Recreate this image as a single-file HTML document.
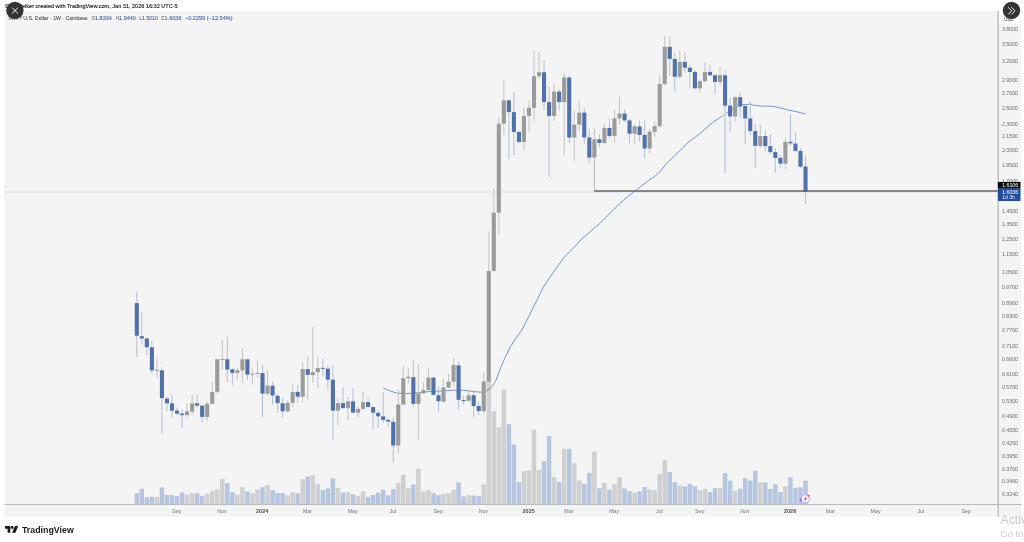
<!DOCTYPE html>
<html><head><meta charset="utf-8"><title>XRP chart</title><style>html,body{margin:0;padding:0;background:#fff;overflow:hidden}body{width:1024px;height:542px;font-family:"Liberation Sans",sans-serif}</style></head><body>
<svg width="1024" height="542" viewBox="0 0 1024 542" style="display:block;font-family:'Liberation Sans',sans-serif">
<defs><filter id="tf" x="-10%" y="-60%" width="120%" height="220%"><feGaussianBlur stdDeviation="0.18"/></filter></defs>
<rect width="1024" height="542" fill="#fff"/>
<rect x="4.3" y="10.9" width="1017.2" height="505.8" fill="#f4f4f4"/>
<rect x="134.55" y="493.20" width="4.5" height="11.00" fill="#b7c6e0"/>
<rect x="139.58" y="488.68" width="4.5" height="15.52" fill="#b7c6e0"/>
<rect x="144.61" y="497.22" width="4.5" height="6.98" fill="#b7c6e0"/>
<rect x="149.63" y="496.72" width="4.5" height="7.48" fill="#b7c6e0"/>
<rect x="154.66" y="496.97" width="4.5" height="7.23" fill="#d0d0d2"/>
<rect x="159.69" y="487.43" width="4.5" height="16.77" fill="#b7c6e0"/>
<rect x="164.72" y="494.96" width="4.5" height="9.24" fill="#b7c6e0"/>
<rect x="169.75" y="494.96" width="4.5" height="9.24" fill="#b7c6e0"/>
<rect x="174.77" y="495.96" width="4.5" height="8.24" fill="#b7c6e0"/>
<rect x="179.80" y="492.45" width="4.5" height="11.75" fill="#b7c6e0"/>
<rect x="184.83" y="494.71" width="4.5" height="9.49" fill="#d0d0d2"/>
<rect x="189.86" y="493.20" width="4.5" height="11.00" fill="#d0d0d2"/>
<rect x="194.89" y="493.20" width="4.5" height="11.00" fill="#b7c6e0"/>
<rect x="199.91" y="495.96" width="4.5" height="8.24" fill="#b7c6e0"/>
<rect x="204.94" y="493.70" width="4.5" height="10.50" fill="#d0d0d2"/>
<rect x="209.97" y="491.19" width="4.5" height="13.01" fill="#d0d0d2"/>
<rect x="215.00" y="489.19" width="4.5" height="15.01" fill="#d0d0d2"/>
<rect x="220.03" y="478.90" width="4.5" height="25.30" fill="#d0d0d2"/>
<rect x="225.05" y="483.16" width="4.5" height="21.04" fill="#b7c6e0"/>
<rect x="230.08" y="492.20" width="4.5" height="12.00" fill="#b7c6e0"/>
<rect x="235.11" y="494.71" width="4.5" height="9.49" fill="#d0d0d2"/>
<rect x="240.14" y="487.18" width="4.5" height="17.02" fill="#d0d0d2"/>
<rect x="245.17" y="491.45" width="4.5" height="12.75" fill="#b7c6e0"/>
<rect x="250.19" y="493.20" width="4.5" height="11.00" fill="#d0d0d2"/>
<rect x="255.22" y="489.69" width="4.5" height="14.51" fill="#d0d0d2"/>
<rect x="260.25" y="487.18" width="4.5" height="17.02" fill="#b7c6e0"/>
<rect x="265.28" y="484.92" width="4.5" height="19.28" fill="#d0d0d2"/>
<rect x="270.31" y="490.19" width="4.5" height="14.01" fill="#b7c6e0"/>
<rect x="275.33" y="493.20" width="4.5" height="11.00" fill="#b7c6e0"/>
<rect x="280.36" y="493.20" width="4.5" height="11.00" fill="#b7c6e0"/>
<rect x="285.39" y="495.21" width="4.5" height="8.99" fill="#d0d0d2"/>
<rect x="290.42" y="492.20" width="4.5" height="12.00" fill="#d0d0d2"/>
<rect x="295.45" y="493.45" width="4.5" height="10.75" fill="#b7c6e0"/>
<rect x="300.47" y="479.15" width="4.5" height="25.05" fill="#d0d0d2"/>
<rect x="305.50" y="476.39" width="4.5" height="27.81" fill="#b7c6e0"/>
<rect x="310.53" y="475.13" width="4.5" height="29.07" fill="#d0d0d2"/>
<rect x="315.56" y="484.17" width="4.5" height="20.03" fill="#d0d0d2"/>
<rect x="320.59" y="489.94" width="4.5" height="14.26" fill="#b7c6e0"/>
<rect x="325.61" y="488.43" width="4.5" height="15.77" fill="#b7c6e0"/>
<rect x="330.64" y="478.39" width="4.5" height="25.81" fill="#b7c6e0"/>
<rect x="335.67" y="487.93" width="4.5" height="16.27" fill="#d0d0d2"/>
<rect x="340.70" y="492.45" width="4.5" height="11.75" fill="#b7c6e0"/>
<rect x="345.73" y="492.20" width="4.5" height="12.00" fill="#d0d0d2"/>
<rect x="350.75" y="494.21" width="4.5" height="9.99" fill="#b7c6e0"/>
<rect x="355.78" y="495.71" width="4.5" height="8.49" fill="#d0d0d2"/>
<rect x="360.81" y="491.15" width="4.5" height="13.05" fill="#d0d0d2"/>
<rect x="365.84" y="496.93" width="4.5" height="7.27" fill="#b7c6e0"/>
<rect x="370.87" y="494.92" width="4.5" height="9.28" fill="#b7c6e0"/>
<rect x="375.89" y="492.66" width="4.5" height="11.54" fill="#b7c6e0"/>
<rect x="380.92" y="489.90" width="4.5" height="14.30" fill="#b7c6e0"/>
<rect x="385.95" y="495.17" width="4.5" height="9.03" fill="#b7c6e0"/>
<rect x="390.98" y="489.15" width="4.5" height="15.05" fill="#b7c6e0"/>
<rect x="396.01" y="483.12" width="4.5" height="21.08" fill="#d0d0d2"/>
<rect x="401.03" y="474.84" width="4.5" height="29.36" fill="#d0d0d2"/>
<rect x="406.06" y="488.14" width="4.5" height="16.06" fill="#d0d0d2"/>
<rect x="411.09" y="484.38" width="4.5" height="19.82" fill="#b7c6e0"/>
<rect x="416.12" y="468.82" width="4.5" height="35.38" fill="#d0d0d2"/>
<rect x="421.15" y="491.41" width="4.5" height="12.79" fill="#d0d0d2"/>
<rect x="426.17" y="490.15" width="4.5" height="14.05" fill="#d0d0d2"/>
<rect x="431.20" y="493.16" width="4.5" height="11.04" fill="#b7c6e0"/>
<rect x="436.23" y="495.17" width="4.5" height="9.03" fill="#b7c6e0"/>
<rect x="441.26" y="493.92" width="4.5" height="10.28" fill="#d0d0d2"/>
<rect x="446.29" y="493.41" width="4.5" height="10.79" fill="#d0d0d2"/>
<rect x="451.31" y="489.65" width="4.5" height="14.55" fill="#d0d0d2"/>
<rect x="456.34" y="482.37" width="4.5" height="21.83" fill="#b7c6e0"/>
<rect x="461.37" y="496.43" width="4.5" height="7.77" fill="#b7c6e0"/>
<rect x="466.40" y="495.17" width="4.5" height="9.03" fill="#d0d0d2"/>
<rect x="471.43" y="495.67" width="4.5" height="8.53" fill="#b7c6e0"/>
<rect x="476.45" y="495.92" width="4.5" height="8.28" fill="#b7c6e0"/>
<rect x="481.48" y="484.38" width="4.5" height="19.82" fill="#d0d0d2"/>
<rect x="486.51" y="380.00" width="4.5" height="124.20" fill="#d0d0d2"/>
<rect x="491.54" y="411.08" width="4.5" height="93.12" fill="#d0d0d2"/>
<rect x="496.57" y="427.15" width="4.5" height="77.05" fill="#d0d0d2"/>
<rect x="501.59" y="389.50" width="4.5" height="114.70" fill="#d0d0d2"/>
<rect x="506.62" y="424.14" width="4.5" height="80.06" fill="#b7c6e0"/>
<rect x="511.65" y="444.47" width="4.5" height="59.73" fill="#b7c6e0"/>
<rect x="516.68" y="482.12" width="4.5" height="22.08" fill="#b7c6e0"/>
<rect x="521.71" y="471.07" width="4.5" height="33.13" fill="#d0d0d2"/>
<rect x="526.73" y="470.32" width="4.5" height="33.88" fill="#d0d0d2"/>
<rect x="531.76" y="429.66" width="4.5" height="74.54" fill="#d0d0d2"/>
<rect x="536.79" y="469.82" width="4.5" height="34.38" fill="#d0d0d2"/>
<rect x="541.82" y="461.03" width="4.5" height="43.17" fill="#b7c6e0"/>
<rect x="546.85" y="435.93" width="4.5" height="68.27" fill="#b7c6e0"/>
<rect x="551.87" y="477.10" width="4.5" height="27.10" fill="#d0d0d2"/>
<rect x="556.90" y="482.12" width="4.5" height="22.08" fill="#b7c6e0"/>
<rect x="561.93" y="448.73" width="4.5" height="55.47" fill="#d0d0d2"/>
<rect x="566.96" y="448.73" width="4.5" height="55.47" fill="#b7c6e0"/>
<rect x="571.99" y="463.29" width="4.5" height="40.91" fill="#d0d0d2"/>
<rect x="577.01" y="480.36" width="4.5" height="23.84" fill="#d0d0d2"/>
<rect x="582.04" y="483.88" width="4.5" height="20.32" fill="#b7c6e0"/>
<rect x="587.07" y="472.83" width="4.5" height="31.37" fill="#b7c6e0"/>
<rect x="592.10" y="451.50" width="4.5" height="52.70" fill="#d0d0d2"/>
<rect x="597.13" y="488.14" width="4.5" height="16.06" fill="#b7c6e0"/>
<rect x="602.15" y="482.87" width="4.5" height="21.33" fill="#d0d0d2"/>
<rect x="607.18" y="489.65" width="4.5" height="14.55" fill="#b7c6e0"/>
<rect x="612.21" y="484.38" width="4.5" height="19.82" fill="#d0d0d2"/>
<rect x="617.24" y="477.10" width="4.5" height="27.10" fill="#d0d0d2"/>
<rect x="622.27" y="488.39" width="4.5" height="15.81" fill="#b7c6e0"/>
<rect x="627.29" y="491.15" width="4.5" height="13.05" fill="#b7c6e0"/>
<rect x="632.32" y="492.66" width="4.5" height="11.54" fill="#d0d0d2"/>
<rect x="637.35" y="491.41" width="4.5" height="12.79" fill="#b7c6e0"/>
<rect x="642.38" y="487.14" width="4.5" height="17.06" fill="#b7c6e0"/>
<rect x="647.41" y="489.40" width="4.5" height="14.80" fill="#d0d0d2"/>
<rect x="652.43" y="490.15" width="4.5" height="14.05" fill="#d0d0d2"/>
<rect x="657.46" y="474.09" width="4.5" height="30.11" fill="#d0d0d2"/>
<rect x="662.49" y="460.03" width="4.5" height="44.17" fill="#d0d0d2"/>
<rect x="667.52" y="472.08" width="4.5" height="32.12" fill="#b7c6e0"/>
<rect x="672.55" y="482.12" width="4.5" height="22.08" fill="#b7c6e0"/>
<rect x="677.57" y="485.38" width="4.5" height="18.82" fill="#d0d0d2"/>
<rect x="682.60" y="486.39" width="4.5" height="17.81" fill="#b7c6e0"/>
<rect x="687.63" y="483.88" width="4.5" height="20.32" fill="#b7c6e0"/>
<rect x="692.66" y="486.13" width="4.5" height="18.07" fill="#b7c6e0"/>
<rect x="697.69" y="490.15" width="4.5" height="14.05" fill="#d0d0d2"/>
<rect x="702.71" y="488.90" width="4.5" height="15.30" fill="#d0d0d2"/>
<rect x="707.74" y="492.16" width="4.5" height="12.04" fill="#b7c6e0"/>
<rect x="712.77" y="487.89" width="4.5" height="16.31" fill="#b7c6e0"/>
<rect x="717.80" y="488.14" width="4.5" height="16.06" fill="#d0d0d2"/>
<rect x="722.83" y="473.08" width="4.5" height="31.12" fill="#b7c6e0"/>
<rect x="727.85" y="480.61" width="4.5" height="23.59" fill="#b7c6e0"/>
<rect x="732.88" y="490.65" width="4.5" height="13.55" fill="#d0d0d2"/>
<rect x="737.91" y="488.64" width="4.5" height="15.56" fill="#b7c6e0"/>
<rect x="742.94" y="478.10" width="4.5" height="26.10" fill="#b7c6e0"/>
<rect x="747.97" y="480.61" width="4.5" height="23.59" fill="#b7c6e0"/>
<rect x="752.99" y="470.82" width="4.5" height="33.38" fill="#b7c6e0"/>
<rect x="758.02" y="482.37" width="4.5" height="21.83" fill="#d0d0d2"/>
<rect x="763.05" y="482.37" width="4.5" height="21.83" fill="#b7c6e0"/>
<rect x="768.08" y="488.90" width="4.5" height="15.30" fill="#b7c6e0"/>
<rect x="773.11" y="484.38" width="4.5" height="19.82" fill="#b7c6e0"/>
<rect x="778.13" y="491.91" width="4.5" height="12.29" fill="#b7c6e0"/>
<rect x="783.16" y="486.13" width="4.5" height="18.07" fill="#d0d0d2"/>
<rect x="788.19" y="477.35" width="4.5" height="26.85" fill="#b7c6e0"/>
<rect x="793.22" y="488.14" width="4.5" height="16.06" fill="#b7c6e0"/>
<rect x="798.25" y="487.39" width="4.5" height="16.81" fill="#b7c6e0"/>
<rect x="803.27" y="480.61" width="4.5" height="23.59" fill="#b7c6e0"/>
<line x1="4.3" y1="191.9" x2="998" y2="191.9" stroke="#b2c0dc" stroke-width="0.8" stroke-dasharray="1,1"/>
<polyline points="383.1,388.0 390.1,391.0 397.7,393.3 405.2,393.5 412.7,393.3 422.8,392.2 432.8,391.2 442.8,391.0 452.9,390.2 462.9,390.2 473.0,391.5 480.5,392.2 485.5,391.5 490.5,388.2 495.5,381.5 500.6,367.7 505.6,356.4 510.6,346.3 515.6,338.8 521.9,330.0 544.0,286.0 552.8,273.0 564.1,257.4 583.0,237.9 600.5,222.8 615.2,208.0 624.0,199.6 635.3,190.8 646.6,182.0 655.4,175.8 660.4,171.4 666.7,163.2 675.4,155.1 688.0,142.5 697.8,135.2 700.0,133.3 712.5,122.7 722.6,115.8 731.4,109.5 737.6,106.3 742.7,104.7 750.2,104.2 754.0,105.3 762.7,106.1 772.8,106.3 780.3,107.9 787.8,109.9 797.9,112.0 805.6,114.0" fill="none" stroke="#5f82c0" stroke-width="0.85" stroke-linejoin="round"/>
<rect x="136.30" y="291.30" width="1.0" height="65.76" fill="#b2bfdb"/>
<rect x="141.33" y="311.38" width="1.0" height="33.13" fill="#b2bfdb"/>
<rect x="146.36" y="337.23" width="1.0" height="18.07" fill="#b2bfdb"/>
<rect x="151.38" y="340.99" width="1.0" height="33.13" fill="#b2bfdb"/>
<rect x="156.41" y="358.31" width="1.0" height="19.58" fill="#c4c4c4"/>
<rect x="161.44" y="367.10" width="1.0" height="67.37" fill="#b2bfdb"/>
<rect x="166.47" y="396.72" width="1.0" height="14.66" fill="#b2bfdb"/>
<rect x="171.50" y="394.31" width="1.0" height="23.34" fill="#b2bfdb"/>
<rect x="176.52" y="407.61" width="1.0" height="7.53" fill="#b2bfdb"/>
<rect x="181.55" y="409.37" width="1.0" height="18.83" fill="#b2bfdb"/>
<rect x="186.58" y="403.34" width="1.0" height="14.31" fill="#c4c4c4"/>
<rect x="191.61" y="394.56" width="1.0" height="20.58" fill="#c4c4c4"/>
<rect x="196.64" y="394.31" width="1.0" height="13.30" fill="#b2bfdb"/>
<rect x="201.66" y="405.10" width="1.0" height="17.07" fill="#b2bfdb"/>
<rect x="206.69" y="401.34" width="1.0" height="19.58" fill="#c4c4c4"/>
<rect x="211.72" y="382.01" width="1.0" height="22.59" fill="#c4c4c4"/>
<rect x="216.75" y="359.32" width="1.0" height="34.49" fill="#c4c4c4"/>
<rect x="221.78" y="339.74" width="1.0" height="30.12" fill="#c4c4c4"/>
<rect x="226.80" y="336.48" width="1.0" height="45.68" fill="#b2bfdb"/>
<rect x="231.83" y="367.85" width="1.0" height="17.57" fill="#b2bfdb"/>
<rect x="236.86" y="367.85" width="1.0" height="12.05" fill="#c4c4c4"/>
<rect x="241.89" y="348.27" width="1.0" height="33.89" fill="#c4c4c4"/>
<rect x="246.92" y="359.32" width="1.0" height="20.58" fill="#b2bfdb"/>
<rect x="251.94" y="368.35" width="1.0" height="16.06" fill="#c4c4c4"/>
<rect x="256.97" y="360.32" width="1.0" height="17.57" fill="#c4c4c4"/>
<rect x="262.00" y="365.34" width="1.0" height="51.81" fill="#b2bfdb"/>
<rect x="267.03" y="370.36" width="1.0" height="25.10" fill="#c4c4c4"/>
<rect x="272.06" y="381.66" width="1.0" height="22.59" fill="#b2bfdb"/>
<rect x="277.08" y="394.21" width="1.0" height="18.83" fill="#b2bfdb"/>
<rect x="282.11" y="397.97" width="1.0" height="19.68" fill="#b2bfdb"/>
<rect x="287.14" y="400.48" width="1.0" height="12.55" fill="#c4c4c4"/>
<rect x="292.17" y="384.17" width="1.0" height="22.59" fill="#c4c4c4"/>
<rect x="297.20" y="385.42" width="1.0" height="17.57" fill="#b2bfdb"/>
<rect x="302.22" y="362.08" width="1.0" height="39.66" fill="#c4c4c4"/>
<rect x="307.25" y="356.56" width="1.0" height="42.67" fill="#b2bfdb"/>
<rect x="312.28" y="326.94" width="1.0" height="55.97" fill="#c4c4c4"/>
<rect x="317.31" y="357.06" width="1.0" height="30.87" fill="#c4c4c4"/>
<rect x="322.34" y="358.56" width="1.0" height="18.07" fill="#b2bfdb"/>
<rect x="327.36" y="365.34" width="1.0" height="24.35" fill="#b2bfdb"/>
<rect x="332.39" y="364.84" width="1.0" height="74.90" fill="#b2bfdb"/>
<rect x="337.42" y="398.83" width="1.0" height="26.36" fill="#c4c4c4"/>
<rect x="342.45" y="387.03" width="1.0" height="21.84" fill="#b2bfdb"/>
<rect x="347.48" y="397.07" width="1.0" height="23.59" fill="#c4c4c4"/>
<rect x="352.50" y="387.53" width="1.0" height="25.85" fill="#b2bfdb"/>
<rect x="357.53" y="406.36" width="1.0" height="11.30" fill="#c4c4c4"/>
<rect x="362.56" y="391.30" width="1.0" height="18.83" fill="#c4c4c4"/>
<rect x="367.59" y="397.57" width="1.0" height="10.54" fill="#b2bfdb"/>
<rect x="372.62" y="406.36" width="1.0" height="23.85" fill="#b2bfdb"/>
<rect x="377.64" y="410.32" width="1.0" height="17.57" fill="#b2bfdb"/>
<rect x="382.67" y="392.00" width="1.0" height="30.87" fill="#b2bfdb"/>
<rect x="387.70" y="418.35" width="1.0" height="8.28" fill="#b2bfdb"/>
<rect x="392.73" y="417.35" width="1.0" height="45.18" fill="#b2bfdb"/>
<rect x="397.76" y="388.99" width="1.0" height="64.01" fill="#c4c4c4"/>
<rect x="402.78" y="366.40" width="1.0" height="38.91" fill="#c4c4c4"/>
<rect x="407.81" y="367.65" width="1.0" height="16.32" fill="#c4c4c4"/>
<rect x="412.84" y="360.12" width="1.0" height="46.94" fill="#b2bfdb"/>
<rect x="417.87" y="363.89" width="1.0" height="75.80" fill="#c4c4c4"/>
<rect x="422.90" y="382.21" width="1.0" height="11.80" fill="#c4c4c4"/>
<rect x="427.92" y="368.15" width="1.0" height="22.59" fill="#c4c4c4"/>
<rect x="432.95" y="376.44" width="1.0" height="19.33" fill="#b2bfdb"/>
<rect x="437.98" y="386.48" width="1.0" height="24.85" fill="#b2bfdb"/>
<rect x="443.01" y="378.44" width="1.0" height="24.35" fill="#c4c4c4"/>
<rect x="448.04" y="373.93" width="1.0" height="14.31" fill="#c4c4c4"/>
<rect x="453.06" y="358.11" width="1.0" height="28.36" fill="#c4c4c4"/>
<rect x="458.09" y="361.38" width="1.0" height="48.44" fill="#b2bfdb"/>
<rect x="463.12" y="395.76" width="1.0" height="8.79" fill="#b2bfdb"/>
<rect x="468.15" y="388.99" width="1.0" height="12.55" fill="#c4c4c4"/>
<rect x="473.18" y="390.24" width="1.0" height="27.11" fill="#b2bfdb"/>
<rect x="478.20" y="401.54" width="1.0" height="13.81" fill="#b2bfdb"/>
<rect x="483.23" y="371.92" width="1.0" height="41.67" fill="#c4c4c4"/>
<rect x="488.26" y="231.58" width="1.0" height="150.38" fill="#c4c4c4"/>
<rect x="493.29" y="188.15" width="1.0" height="83.33" fill="#c4c4c4"/>
<rect x="498.32" y="117.89" width="1.0" height="116.19" fill="#c4c4c4"/>
<rect x="503.34" y="80.24" width="1.0" height="55.22" fill="#c4c4c4"/>
<rect x="508.37" y="99.82" width="1.0" height="59.72" fill="#b2bfdb"/>
<rect x="513.40" y="91.54" width="1.0" height="63.48" fill="#b2bfdb"/>
<rect x="518.43" y="130.44" width="1.0" height="13.05" fill="#b2bfdb"/>
<rect x="523.46" y="107.35" width="1.0" height="43.17" fill="#c4c4c4"/>
<rect x="528.48" y="100.82" width="1.0" height="30.87" fill="#c4c4c4"/>
<rect x="533.51" y="50.12" width="1.0" height="71.03" fill="#c4c4c4"/>
<rect x="538.54" y="51.88" width="1.0" height="27.11" fill="#c4c4c4"/>
<rect x="543.57" y="60.16" width="1.0" height="50.20" fill="#b2bfdb"/>
<rect x="548.60" y="86.52" width="1.0" height="90.59" fill="#b2bfdb"/>
<rect x="553.62" y="84.01" width="1.0" height="36.90" fill="#c4c4c4"/>
<rect x="558.65" y="89.03" width="1.0" height="21.34" fill="#b2bfdb"/>
<rect x="563.68" y="73.46" width="1.0" height="81.56" fill="#c4c4c4"/>
<rect x="568.71" y="75.72" width="1.0" height="67.27" fill="#b2bfdb"/>
<rect x="573.74" y="109.61" width="1.0" height="50.93" fill="#c4c4c4"/>
<rect x="578.76" y="100.82" width="1.0" height="29.62" fill="#c4c4c4"/>
<rect x="583.79" y="107.85" width="1.0" height="36.40" fill="#b2bfdb"/>
<rect x="588.82" y="129.19" width="1.0" height="33.87" fill="#b2bfdb"/>
<rect x="593.85" y="128.43" width="1.0" height="29.10" fill="#c4c4c4"/>
<rect x="598.88" y="134.21" width="1.0" height="12.55" fill="#b2bfdb"/>
<rect x="603.90" y="124.17" width="1.0" height="20.08" fill="#c4c4c4"/>
<rect x="608.93" y="118.64" width="1.0" height="19.33" fill="#b2bfdb"/>
<rect x="613.96" y="109.11" width="1.0" height="33.89" fill="#c4c4c4"/>
<rect x="618.99" y="96.56" width="1.0" height="27.61" fill="#c4c4c4"/>
<rect x="624.02" y="109.61" width="1.0" height="12.05" fill="#b2bfdb"/>
<rect x="629.04" y="119.15" width="1.0" height="23.85" fill="#b2bfdb"/>
<rect x="634.07" y="124.92" width="1.0" height="19.33" fill="#c4c4c4"/>
<rect x="639.10" y="120.40" width="1.0" height="21.34" fill="#b2bfdb"/>
<rect x="644.13" y="120.40" width="1.0" height="37.88" fill="#b2bfdb"/>
<rect x="649.16" y="129.19" width="1.0" height="24.58" fill="#c4c4c4"/>
<rect x="654.18" y="121.15" width="1.0" height="15.56" fill="#c4c4c4"/>
<rect x="659.21" y="74.72" width="1.0" height="53.21" fill="#c4c4c4"/>
<rect x="664.24" y="35.56" width="1.0" height="50.20" fill="#c4c4c4"/>
<rect x="669.27" y="36.32" width="1.0" height="39.41" fill="#b2bfdb"/>
<rect x="674.30" y="52.63" width="1.0" height="38.91" fill="#b2bfdb"/>
<rect x="679.32" y="50.62" width="1.0" height="28.87" fill="#c4c4c4"/>
<rect x="684.35" y="52.13" width="1.0" height="20.58" fill="#b2bfdb"/>
<rect x="689.38" y="65.18" width="1.0" height="22.59" fill="#b2bfdb"/>
<rect x="694.41" y="70.20" width="1.0" height="18.83" fill="#b2bfdb"/>
<rect x="699.44" y="79.49" width="1.0" height="13.81" fill="#c4c4c4"/>
<rect x="704.46" y="62.17" width="1.0" height="19.83" fill="#c4c4c4"/>
<rect x="709.49" y="64.68" width="1.0" height="11.80" fill="#b2bfdb"/>
<rect x="714.52" y="73.97" width="1.0" height="20.08" fill="#b2bfdb"/>
<rect x="719.55" y="66.94" width="1.0" height="18.83" fill="#c4c4c4"/>
<rect x="724.58" y="70.20" width="1.0" height="102.75" fill="#b2bfdb"/>
<rect x="729.60" y="97.65" width="1.0" height="35.14" fill="#b2bfdb"/>
<rect x="734.63" y="96.40" width="1.0" height="25.10" fill="#c4c4c4"/>
<rect x="739.66" y="92.63" width="1.0" height="25.10" fill="#b2bfdb"/>
<rect x="744.69" y="104.68" width="1.0" height="39.41" fill="#b2bfdb"/>
<rect x="749.72" y="101.42" width="1.0" height="33.89" fill="#b2bfdb"/>
<rect x="754.74" y="123.25" width="1.0" height="45.18" fill="#b2bfdb"/>
<rect x="759.77" y="124.51" width="1.0" height="23.34" fill="#c4c4c4"/>
<rect x="764.80" y="130.28" width="1.0" height="21.34" fill="#b2bfdb"/>
<rect x="769.83" y="134.05" width="1.0" height="20.58" fill="#b2bfdb"/>
<rect x="774.86" y="148.35" width="1.0" height="24.60" fill="#b2bfdb"/>
<rect x="779.88" y="155.38" width="1.0" height="12.55" fill="#b2bfdb"/>
<rect x="784.91" y="137.81" width="1.0" height="31.38" fill="#c4c4c4"/>
<rect x="789.94" y="114.47" width="1.0" height="31.38" fill="#b2bfdb"/>
<rect x="794.97" y="132.79" width="1.0" height="19.33" fill="#b2bfdb"/>
<rect x="800.00" y="147.85" width="1.0" height="20.08" fill="#b2bfdb"/>
<rect x="805.02" y="155.40" width="1.0" height="48.90" fill="#b2bfdb"/>
<rect x="724.08" y="106" width="2.0" height="67" fill="#cfd7e8"/>
<rect x="134.75" y="303.09" width="4.1" height="32.63" fill="#5171ab"/>
<rect x="139.78" y="336.22" width="4.1" height="2.26" fill="#5171ab"/>
<rect x="144.81" y="338.48" width="4.1" height="8.79" fill="#5171ab"/>
<rect x="149.83" y="347.27" width="4.1" height="23.09" fill="#5171ab"/>
<rect x="154.86" y="369.86" width="4.1" height="1.00" fill="#9b9b9b"/>
<rect x="159.89" y="370.36" width="4.1" height="27.71" fill="#5171ab"/>
<rect x="164.92" y="398.57" width="4.1" height="4.77" fill="#5171ab"/>
<rect x="169.95" y="403.34" width="4.1" height="7.28" fill="#5171ab"/>
<rect x="174.97" y="410.62" width="4.1" height="3.01" fill="#5171ab"/>
<rect x="180.00" y="413.63" width="4.1" height="1.51" fill="#5171ab"/>
<rect x="185.03" y="411.38" width="4.1" height="3.77" fill="#9b9b9b"/>
<rect x="190.06" y="403.34" width="4.1" height="8.28" fill="#9b9b9b"/>
<rect x="195.09" y="403.34" width="4.1" height="2.26" fill="#5171ab"/>
<rect x="200.11" y="405.60" width="4.1" height="11.30" fill="#5171ab"/>
<rect x="205.14" y="403.59" width="4.1" height="13.30" fill="#9b9b9b"/>
<rect x="210.17" y="392.05" width="4.1" height="11.80" fill="#9b9b9b"/>
<rect x="215.20" y="359.32" width="4.1" height="32.48" fill="#9b9b9b"/>
<rect x="220.23" y="359.07" width="4.1" height="1.00" fill="#9b9b9b"/>
<rect x="225.25" y="359.32" width="4.1" height="10.29" fill="#5171ab"/>
<rect x="230.28" y="369.36" width="4.1" height="3.51" fill="#5171ab"/>
<rect x="235.31" y="370.36" width="4.1" height="2.51" fill="#9b9b9b"/>
<rect x="240.34" y="359.32" width="4.1" height="11.04" fill="#9b9b9b"/>
<rect x="245.37" y="359.32" width="4.1" height="15.31" fill="#5171ab"/>
<rect x="250.39" y="373.88" width="4.1" height="1.00" fill="#9b9b9b"/>
<rect x="255.42" y="372.87" width="4.1" height="1.00" fill="#9b9b9b"/>
<rect x="260.45" y="373.12" width="4.1" height="20.58" fill="#5171ab"/>
<rect x="265.48" y="385.67" width="4.1" height="8.03" fill="#9b9b9b"/>
<rect x="270.51" y="385.67" width="4.1" height="9.79" fill="#5171ab"/>
<rect x="275.53" y="395.71" width="4.1" height="7.28" fill="#5171ab"/>
<rect x="280.56" y="403.24" width="4.1" height="8.03" fill="#5171ab"/>
<rect x="285.59" y="402.74" width="4.1" height="8.53" fill="#9b9b9b"/>
<rect x="290.62" y="391.95" width="4.1" height="10.79" fill="#9b9b9b"/>
<rect x="295.65" y="391.95" width="4.1" height="4.77" fill="#5171ab"/>
<rect x="300.67" y="369.11" width="4.1" height="27.61" fill="#9b9b9b"/>
<rect x="305.70" y="369.11" width="4.1" height="5.77" fill="#5171ab"/>
<rect x="310.73" y="372.12" width="4.1" height="3.01" fill="#9b9b9b"/>
<rect x="315.76" y="368.10" width="4.1" height="4.02" fill="#9b9b9b"/>
<rect x="320.79" y="367.85" width="4.1" height="1.00" fill="#5171ab"/>
<rect x="325.81" y="368.60" width="4.1" height="11.04" fill="#5171ab"/>
<rect x="330.84" y="379.65" width="4.1" height="30.97" fill="#5171ab"/>
<rect x="335.87" y="403.09" width="4.1" height="7.53" fill="#9b9b9b"/>
<rect x="340.90" y="403.09" width="4.1" height="5.02" fill="#5171ab"/>
<rect x="345.93" y="401.34" width="4.1" height="6.78" fill="#9b9b9b"/>
<rect x="350.95" y="401.34" width="4.1" height="11.30" fill="#5171ab"/>
<rect x="355.98" y="408.87" width="4.1" height="3.77" fill="#9b9b9b"/>
<rect x="361.01" y="402.09" width="4.1" height="6.78" fill="#9b9b9b"/>
<rect x="366.04" y="402.09" width="4.1" height="4.77" fill="#5171ab"/>
<rect x="371.07" y="407.11" width="4.1" height="5.52" fill="#5171ab"/>
<rect x="376.09" y="412.83" width="4.1" height="3.51" fill="#5171ab"/>
<rect x="381.12" y="416.35" width="4.1" height="3.51" fill="#5171ab"/>
<rect x="386.15" y="419.86" width="4.1" height="1.76" fill="#5171ab"/>
<rect x="391.18" y="421.87" width="4.1" height="23.59" fill="#5171ab"/>
<rect x="396.21" y="404.55" width="4.1" height="40.91" fill="#9b9b9b"/>
<rect x="401.23" y="378.19" width="4.1" height="26.36" fill="#9b9b9b"/>
<rect x="406.26" y="376.69" width="4.1" height="1.51" fill="#9b9b9b"/>
<rect x="411.29" y="377.19" width="4.1" height="26.61" fill="#5171ab"/>
<rect x="416.32" y="393.25" width="4.1" height="10.54" fill="#9b9b9b"/>
<rect x="421.35" y="389.99" width="4.1" height="3.26" fill="#9b9b9b"/>
<rect x="426.37" y="377.69" width="4.1" height="12.30" fill="#9b9b9b"/>
<rect x="431.40" y="377.69" width="4.1" height="17.07" fill="#5171ab"/>
<rect x="436.43" y="395.26" width="4.1" height="6.02" fill="#5171ab"/>
<rect x="441.46" y="387.48" width="4.1" height="14.06" fill="#9b9b9b"/>
<rect x="446.49" y="381.71" width="4.1" height="5.77" fill="#9b9b9b"/>
<rect x="451.51" y="365.14" width="4.1" height="16.57" fill="#9b9b9b"/>
<rect x="456.54" y="365.39" width="4.1" height="34.39" fill="#5171ab"/>
<rect x="461.57" y="400.03" width="4.1" height="1.00" fill="#5171ab"/>
<rect x="466.60" y="395.26" width="4.1" height="5.52" fill="#9b9b9b"/>
<rect x="471.63" y="395.26" width="4.1" height="10.79" fill="#5171ab"/>
<rect x="476.65" y="406.05" width="4.1" height="5.02" fill="#5171ab"/>
<rect x="481.68" y="381.46" width="4.1" height="29.62" fill="#9b9b9b"/>
<rect x="486.71" y="270.98" width="4.1" height="110.47" fill="#9b9b9b"/>
<rect x="491.74" y="212.75" width="4.1" height="58.23" fill="#9b9b9b"/>
<rect x="496.77" y="123.66" width="4.1" height="89.09" fill="#9b9b9b"/>
<rect x="501.79" y="100.32" width="4.1" height="23.34" fill="#9b9b9b"/>
<rect x="506.82" y="100.32" width="4.1" height="11.80" fill="#5171ab"/>
<rect x="511.85" y="112.12" width="4.1" height="19.83" fill="#5171ab"/>
<rect x="516.88" y="131.95" width="4.1" height="10.04" fill="#5171ab"/>
<rect x="521.91" y="115.88" width="4.1" height="26.10" fill="#9b9b9b"/>
<rect x="526.93" y="107.85" width="4.1" height="8.03" fill="#9b9b9b"/>
<rect x="531.96" y="76.22" width="4.1" height="31.63" fill="#9b9b9b"/>
<rect x="536.99" y="72.21" width="4.1" height="4.02" fill="#9b9b9b"/>
<rect x="542.02" y="72.21" width="4.1" height="29.87" fill="#5171ab"/>
<rect x="547.05" y="102.08" width="4.1" height="13.81" fill="#5171ab"/>
<rect x="552.07" y="91.54" width="4.1" height="24.35" fill="#9b9b9b"/>
<rect x="557.10" y="91.54" width="4.1" height="10.54" fill="#5171ab"/>
<rect x="562.13" y="77.48" width="4.1" height="24.60" fill="#9b9b9b"/>
<rect x="567.16" y="77.48" width="4.1" height="59.99" fill="#5171ab"/>
<rect x="572.19" y="124.67" width="4.1" height="12.80" fill="#9b9b9b"/>
<rect x="577.21" y="112.62" width="4.1" height="12.05" fill="#9b9b9b"/>
<rect x="582.24" y="112.62" width="4.1" height="24.85" fill="#5171ab"/>
<rect x="587.27" y="137.47" width="4.1" height="20.06" fill="#5171ab"/>
<rect x="592.30" y="139.23" width="4.1" height="18.30" fill="#9b9b9b"/>
<rect x="597.33" y="139.23" width="4.1" height="3.77" fill="#5171ab"/>
<rect x="602.35" y="127.93" width="4.1" height="15.06" fill="#9b9b9b"/>
<rect x="607.38" y="127.93" width="4.1" height="8.03" fill="#5171ab"/>
<rect x="612.41" y="118.39" width="4.1" height="17.57" fill="#9b9b9b"/>
<rect x="617.44" y="113.62" width="4.1" height="4.77" fill="#9b9b9b"/>
<rect x="622.47" y="113.62" width="4.1" height="6.78" fill="#5171ab"/>
<rect x="627.49" y="120.40" width="4.1" height="13.30" fill="#5171ab"/>
<rect x="632.52" y="126.17" width="4.1" height="7.53" fill="#9b9b9b"/>
<rect x="637.55" y="126.43" width="4.1" height="8.53" fill="#5171ab"/>
<rect x="642.58" y="134.96" width="4.1" height="13.55" fill="#5171ab"/>
<rect x="647.61" y="131.70" width="4.1" height="16.82" fill="#9b9b9b"/>
<rect x="652.63" y="126.17" width="4.1" height="5.52" fill="#9b9b9b"/>
<rect x="657.66" y="84.01" width="4.1" height="42.17" fill="#9b9b9b"/>
<rect x="662.69" y="46.86" width="4.1" height="37.15" fill="#9b9b9b"/>
<rect x="667.72" y="46.86" width="4.1" height="12.05" fill="#5171ab"/>
<rect x="672.75" y="58.91" width="4.1" height="17.82" fill="#5171ab"/>
<rect x="677.77" y="61.92" width="4.1" height="14.81" fill="#9b9b9b"/>
<rect x="682.80" y="61.92" width="4.1" height="5.77" fill="#5171ab"/>
<rect x="687.83" y="67.69" width="4.1" height="4.27" fill="#5171ab"/>
<rect x="692.86" y="71.96" width="4.1" height="16.32" fill="#5171ab"/>
<rect x="697.89" y="81.24" width="4.1" height="7.03" fill="#9b9b9b"/>
<rect x="702.91" y="71.96" width="4.1" height="9.29" fill="#9b9b9b"/>
<rect x="707.94" y="71.96" width="4.1" height="3.26" fill="#5171ab"/>
<rect x="712.97" y="75.22" width="4.1" height="6.78" fill="#5171ab"/>
<rect x="718.00" y="75.22" width="4.1" height="6.78" fill="#9b9b9b"/>
<rect x="723.03" y="75.22" width="4.1" height="30.46" fill="#5171ab"/>
<rect x="728.05" y="105.68" width="4.1" height="10.79" fill="#5171ab"/>
<rect x="733.08" y="97.15" width="4.1" height="19.33" fill="#9b9b9b"/>
<rect x="738.11" y="97.15" width="4.1" height="9.29" fill="#5171ab"/>
<rect x="743.14" y="105.93" width="4.1" height="12.55" fill="#5171ab"/>
<rect x="748.17" y="118.48" width="4.1" height="12.55" fill="#5171ab"/>
<rect x="753.19" y="131.03" width="4.1" height="14.81" fill="#5171ab"/>
<rect x="758.22" y="136.05" width="4.1" height="9.79" fill="#9b9b9b"/>
<rect x="763.25" y="136.05" width="4.1" height="10.04" fill="#5171ab"/>
<rect x="768.28" y="146.09" width="4.1" height="6.02" fill="#5171ab"/>
<rect x="773.31" y="152.12" width="4.1" height="5.77" fill="#5171ab"/>
<rect x="778.33" y="157.89" width="4.1" height="5.77" fill="#5171ab"/>
<rect x="783.36" y="141.83" width="4.1" height="21.84" fill="#9b9b9b"/>
<rect x="788.39" y="141.83" width="4.1" height="1.51" fill="#5171ab"/>
<rect x="793.42" y="143.58" width="4.1" height="7.28" fill="#5171ab"/>
<rect x="798.45" y="150.86" width="4.1" height="15.81" fill="#5171ab"/>
<rect x="803.47" y="166.50" width="4.1" height="25.30" fill="#5171ab"/>
<line x1="594.35" y1="157.5" x2="594.35" y2="191" stroke="#8a8a8a" stroke-width="0.6"/>
<line x1="594.35" y1="190.9" x2="998" y2="190.9" stroke="#646464" stroke-width="1.5"/>
<rect x="997.4" y="10.9" width="1.5" height="505.8" fill="#c0c0c0"/>
<rect x="4.3" y="504" width="1017.2" height="1" fill="#bababa"/>
<rect x="999.4" y="10.9" width="21.3" height="12.6" fill="#fff"/>
<g filter="url(#tf)"><text x="1004" y="20.6" font-size="5.3" fill="#333" textLength="9.5" lengthAdjust="spacingAndGlyphs">USD</text></g>
<g filter="url(#tf)"><text x="1002" y="30.70" font-size="5.3" fill="#6a6a6a" textLength="16" lengthAdjust="spacingAndGlyphs">3.8000</text></g>
<g filter="url(#tf)"><text x="1002" y="46.23" font-size="5.3" fill="#6a6a6a" textLength="16" lengthAdjust="spacingAndGlyphs">3.5000</text></g>
<g filter="url(#tf)"><text x="1002" y="63.16" font-size="5.3" fill="#6a6a6a" textLength="16" lengthAdjust="spacingAndGlyphs">3.2000</text></g>
<g filter="url(#tf)"><text x="1002" y="81.76" font-size="5.3" fill="#6a6a6a" textLength="16" lengthAdjust="spacingAndGlyphs">2.9000</text></g>
<g filter="url(#tf)"><text x="1002" y="95.26" font-size="5.3" fill="#6a6a6a" textLength="16" lengthAdjust="spacingAndGlyphs">2.7000</text></g>
<g filter="url(#tf)"><text x="1002" y="109.79" font-size="5.3" fill="#6a6a6a" textLength="16" lengthAdjust="spacingAndGlyphs">2.5000</text></g>
<g filter="url(#tf)"><text x="1002" y="125.55" font-size="5.3" fill="#6a6a6a" textLength="16" lengthAdjust="spacingAndGlyphs">2.3000</text></g>
<g filter="url(#tf)"><text x="1002" y="138.28" font-size="5.3" fill="#6a6a6a" textLength="16" lengthAdjust="spacingAndGlyphs">2.1500</text></g>
<g filter="url(#tf)"><text x="1002" y="151.95" font-size="5.3" fill="#6a6a6a" textLength="16" lengthAdjust="spacingAndGlyphs">2.0000</text></g>
<g filter="url(#tf)"><text x="1002" y="166.67" font-size="5.3" fill="#6a6a6a" textLength="16" lengthAdjust="spacingAndGlyphs">1.8500</text></g>
<g filter="url(#tf)"><text x="1002" y="182.65" font-size="5.3" fill="#6a6a6a" textLength="16" lengthAdjust="spacingAndGlyphs">1.7000</text></g>
<g filter="url(#tf)"><text x="1002" y="212.69" font-size="5.3" fill="#6a6a6a" textLength="16" lengthAdjust="spacingAndGlyphs">1.4500</text></g>
<g filter="url(#tf)"><text x="1002" y="226.19" font-size="5.3" fill="#6a6a6a" textLength="16" lengthAdjust="spacingAndGlyphs">1.3500</text></g>
<g filter="url(#tf)"><text x="1002" y="240.73" font-size="5.3" fill="#6a6a6a" textLength="16" lengthAdjust="spacingAndGlyphs">1.2500</text></g>
<g filter="url(#tf)"><text x="1002" y="256.48" font-size="5.3" fill="#6a6a6a" textLength="16" lengthAdjust="spacingAndGlyphs">1.1500</text></g>
<g filter="url(#tf)"><text x="1002" y="273.67" font-size="5.3" fill="#6a6a6a" textLength="16" lengthAdjust="spacingAndGlyphs">1.0500</text></g>
<g filter="url(#tf)"><text x="1002" y="288.64" font-size="5.3" fill="#6a6a6a" textLength="16" lengthAdjust="spacingAndGlyphs">0.9700</text></g>
<g filter="url(#tf)"><text x="1002" y="304.89" font-size="5.3" fill="#6a6a6a" textLength="16" lengthAdjust="spacingAndGlyphs">0.8900</text></g>
<g filter="url(#tf)"><text x="1002" y="318.08" font-size="5.3" fill="#6a6a6a" textLength="16" lengthAdjust="spacingAndGlyphs">0.8300</text></g>
<g filter="url(#tf)"><text x="1002" y="332.25" font-size="5.3" fill="#6a6a6a" textLength="16" lengthAdjust="spacingAndGlyphs">0.7700</text></g>
<g filter="url(#tf)"><text x="1002" y="347.58" font-size="5.3" fill="#6a6a6a" textLength="16" lengthAdjust="spacingAndGlyphs">0.7100</text></g>
<g filter="url(#tf)"><text x="1002" y="361.37" font-size="5.3" fill="#6a6a6a" textLength="16" lengthAdjust="spacingAndGlyphs">0.6600</text></g>
<g filter="url(#tf)"><text x="1002" y="376.25" font-size="5.3" fill="#6a6a6a" textLength="16" lengthAdjust="spacingAndGlyphs">0.6100</text></g>
<g filter="url(#tf)"><text x="1002" y="389.07" font-size="5.3" fill="#6a6a6a" textLength="16" lengthAdjust="spacingAndGlyphs">0.5700</text></g>
<g filter="url(#tf)"><text x="1002" y="402.81" font-size="5.3" fill="#6a6a6a" textLength="16" lengthAdjust="spacingAndGlyphs">0.5300</text></g>
<g filter="url(#tf)"><text x="1002" y="417.63" font-size="5.3" fill="#6a6a6a" textLength="16" lengthAdjust="spacingAndGlyphs">0.4900</text></g>
<g filter="url(#tf)"><text x="1002" y="431.63" font-size="5.3" fill="#6a6a6a" textLength="16" lengthAdjust="spacingAndGlyphs">0.4550</text></g>
<g filter="url(#tf)"><text x="1002" y="444.52" font-size="5.3" fill="#6a6a6a" textLength="16" lengthAdjust="spacingAndGlyphs">0.4250</text></g>
<g filter="url(#tf)"><text x="1002" y="458.35" font-size="5.3" fill="#6a6a6a" textLength="16" lengthAdjust="spacingAndGlyphs">0.3950</text></g>
<g filter="url(#tf)"><text x="1002" y="470.70" font-size="5.3" fill="#6a6a6a" textLength="16" lengthAdjust="spacingAndGlyphs">0.3700</text></g>
<g filter="url(#tf)"><text x="1002" y="483.36" font-size="5.3" fill="#6a6a6a" textLength="16" lengthAdjust="spacingAndGlyphs">0.3460</text></g>
<g filter="url(#tf)"><text x="1002" y="495.77" font-size="5.3" fill="#6a6a6a" textLength="16" lengthAdjust="spacingAndGlyphs">0.3240</text></g>
<rect x="997.9" y="181.9" width="22.6" height="6.1" fill="#0d0d0d"/>
<g filter="url(#tf)"><text x="1002.2" y="186.95" font-size="5.3" fill="#fff" textLength="16" lengthAdjust="spacingAndGlyphs">1.6106</text></g>
<path d="M997.9 187.9 h22.6 v12.4 q0 0.6 -0.6 0.6 h-21.4 q-0.6 0 -0.6 -0.6 z" fill="#214f9e"/>
<g filter="url(#tf)"><text x="1002.2" y="193.9" font-size="5.3" fill="#fff" textLength="16" lengthAdjust="spacingAndGlyphs">1.6036</text></g>
<g filter="url(#tf)"><text x="1002.2" y="199.3" font-size="4.7" fill="#e3e9f6" textLength="12.7" lengthAdjust="spacingAndGlyphs">1d 3h</text></g>
<g filter="url(#tf)"><text x="176.72" y="512.55" font-size="5.3" fill="#777" text-anchor="middle">Sep</text></g>
<g filter="url(#tf)"><text x="221.98" y="512.55" font-size="5.3" fill="#777" text-anchor="middle">Nov</text></g>
<g filter="url(#tf)"><text x="262.20" y="512.55" font-size="5.5" font-weight="bold" fill="#505050" text-anchor="middle">2024</text></g>
<g filter="url(#tf)"><text x="307.45" y="512.55" font-size="5.3" fill="#777" text-anchor="middle">Mar</text></g>
<g filter="url(#tf)"><text x="352.70" y="512.55" font-size="5.3" fill="#777" text-anchor="middle">May</text></g>
<g filter="url(#tf)"><text x="392.93" y="512.55" font-size="5.3" fill="#777" text-anchor="middle">Jul</text></g>
<g filter="url(#tf)"><text x="438.18" y="512.55" font-size="5.3" fill="#777" text-anchor="middle">Sep</text></g>
<g filter="url(#tf)"><text x="483.43" y="512.55" font-size="5.3" fill="#777" text-anchor="middle">Nov</text></g>
<g filter="url(#tf)"><text x="528.68" y="512.55" font-size="5.5" font-weight="bold" fill="#505050" text-anchor="middle">2025</text></g>
<g filter="url(#tf)"><text x="568.91" y="512.55" font-size="5.3" fill="#777" text-anchor="middle">Mar</text></g>
<g filter="url(#tf)"><text x="614.16" y="512.55" font-size="5.3" fill="#777" text-anchor="middle">May</text></g>
<g filter="url(#tf)"><text x="659.41" y="512.55" font-size="5.3" fill="#777" text-anchor="middle">Jul</text></g>
<g filter="url(#tf)"><text x="699.64" y="512.55" font-size="5.3" fill="#777" text-anchor="middle">Sep</text></g>
<g filter="url(#tf)"><text x="744.89" y="512.55" font-size="5.3" fill="#777" text-anchor="middle">Nov</text></g>
<g filter="url(#tf)"><text x="790.14" y="512.55" font-size="5.5" font-weight="bold" fill="#505050" text-anchor="middle">2026</text></g>
<g filter="url(#tf)"><text x="830.36" y="512.55" font-size="5.3" fill="#777" text-anchor="middle">Mar</text></g>
<g filter="url(#tf)"><text x="875.62" y="512.55" font-size="5.3" fill="#777" text-anchor="middle">May</text></g>
<g filter="url(#tf)"><text x="920.87" y="512.55" font-size="5.3" fill="#777" text-anchor="middle">Jul</text></g>
<g filter="url(#tf)"><text x="966.12" y="512.55" font-size="5.3" fill="#777" text-anchor="middle">Sep</text></g>
<g filter="url(#tf)"><text x="4.7" y="7.9" font-size="5.5" fill="#1c1c1c" stroke="#1c1c1c" stroke-width="0.14" textLength="173" lengthAdjust="spacingAndGlyphs">ScottMelker created with TradingView.com, Jan 31, 2026 16:32 UTC-5</text></g>
<g filter="url(#tf)"><text x="8.2" y="19.8" font-size="5.5" fill="#505050" stroke="#505050" stroke-width="0.1" textLength="79.6" lengthAdjust="spacingAndGlyphs">XRP / U.S. Dollar · 1W · Coinbase</text></g>
<g filter="url(#tf)"><text x="91.7" y="19.8" font-size="5.5" fill="#505050" stroke="#505050" stroke-width="0.1" textLength="2.9" lengthAdjust="spacingAndGlyphs">O</text></g>
<g filter="url(#tf)"><text x="95" y="19.8" font-size="5.5" fill="#4668a6" stroke="#4668a6" stroke-width="0.12" textLength="16.9" lengthAdjust="spacingAndGlyphs">1.8334</text></g>
<g filter="url(#tf)"><text x="115.9" y="19.8" font-size="5.5" fill="#505050" stroke="#505050" stroke-width="0.1" textLength="2.8" lengthAdjust="spacingAndGlyphs">H</text></g>
<g filter="url(#tf)"><text x="119.1" y="19.8" font-size="5.5" fill="#4668a6" stroke="#4668a6" stroke-width="0.12" textLength="16.8" lengthAdjust="spacingAndGlyphs">1.9440</text></g>
<g filter="url(#tf)"><text x="139.4" y="19.8" font-size="5.5" fill="#505050" stroke="#505050" stroke-width="0.1" textLength="2.0" lengthAdjust="spacingAndGlyphs">L</text></g>
<g filter="url(#tf)"><text x="141.8" y="19.8" font-size="5.5" fill="#4668a6" stroke="#4668a6" stroke-width="0.12" textLength="16.0" lengthAdjust="spacingAndGlyphs">1.5010</text></g>
<g filter="url(#tf)"><text x="161.2" y="19.8" font-size="5.5" fill="#505050" stroke="#505050" stroke-width="0.1" textLength="3.0" lengthAdjust="spacingAndGlyphs">C</text></g>
<g filter="url(#tf)"><text x="164.6" y="19.8" font-size="5.5" fill="#4668a6" stroke="#4668a6" stroke-width="0.12" textLength="16.9" lengthAdjust="spacingAndGlyphs">1.6036</text></g>
<g filter="url(#tf)"><text x="185" y="19.8" font-size="5.5" fill="#4668a6" stroke="#4668a6" stroke-width="0.12" textLength="47.5" lengthAdjust="spacingAndGlyphs">−0.2299 (−12.54%)</text></g>
<circle cx="14.9" cy="10.35" r="8.7" fill="#333"/>
<path d="M12.2 7.7 L17.9 13.5 M17.9 7.7 L12.2 13.5" stroke="#fff" stroke-width="0.95" fill="none"/>
<circle cx="1011.5" cy="10.35" r="8.7" fill="#333"/>
<path d="M1008.15 7.2 L1011.6 10.8 L1008.15 14.55 M1011.3 7.2 L1014.9 10.8 L1011.3 14.55" stroke="#fff" stroke-width="0.9" fill="none"/>
<circle cx="805.4" cy="498.8" r="4.1" fill="#fff" fill-opacity="0.92" stroke="#bd8bd9" stroke-width="0.8"/>
<path d="M806.5 496.0 L803.9 499.3 L805.3 499.3 L804.4 501.7 L807.0 498.3 L805.6 498.3 Z" fill="#9a3fc8"/>
<circle cx="808.5" cy="495.7" r="1" fill="#f23645"/>
<path d="M800.7 498.6 L802.3 500.2 L800.7 501.8 L799.1 500.2 Z" fill="#8f6cf0"/>
<g fill="#1a1a1a"><path d="M5 526.1 h5.3 v6.65 h-2.7 v-3.9 h-2.6 z"/><circle cx="12.1" cy="527.5" r="1.4"/><path d="M14.9 526.1 h3.3 l-2.8 6.65 h-3.3 z"/></g>
<g filter="url(#tf)"><text x="21.9" y="532.75" font-size="9.9" font-weight="bold" fill="#1a1a1a" textLength="52" lengthAdjust="spacingAndGlyphs">TradingView</text></g>
<g filter="url(#tf)"><text x="1000.5" y="524" font-size="12.3" fill="#c9c9c9">Activate Windows</text></g>
<g filter="url(#tf)"><text x="1000.5" y="537" font-size="9.3" fill="#cdcdcd">Go to Settings to activate Windows.</text></g>
</svg>
</body></html>
